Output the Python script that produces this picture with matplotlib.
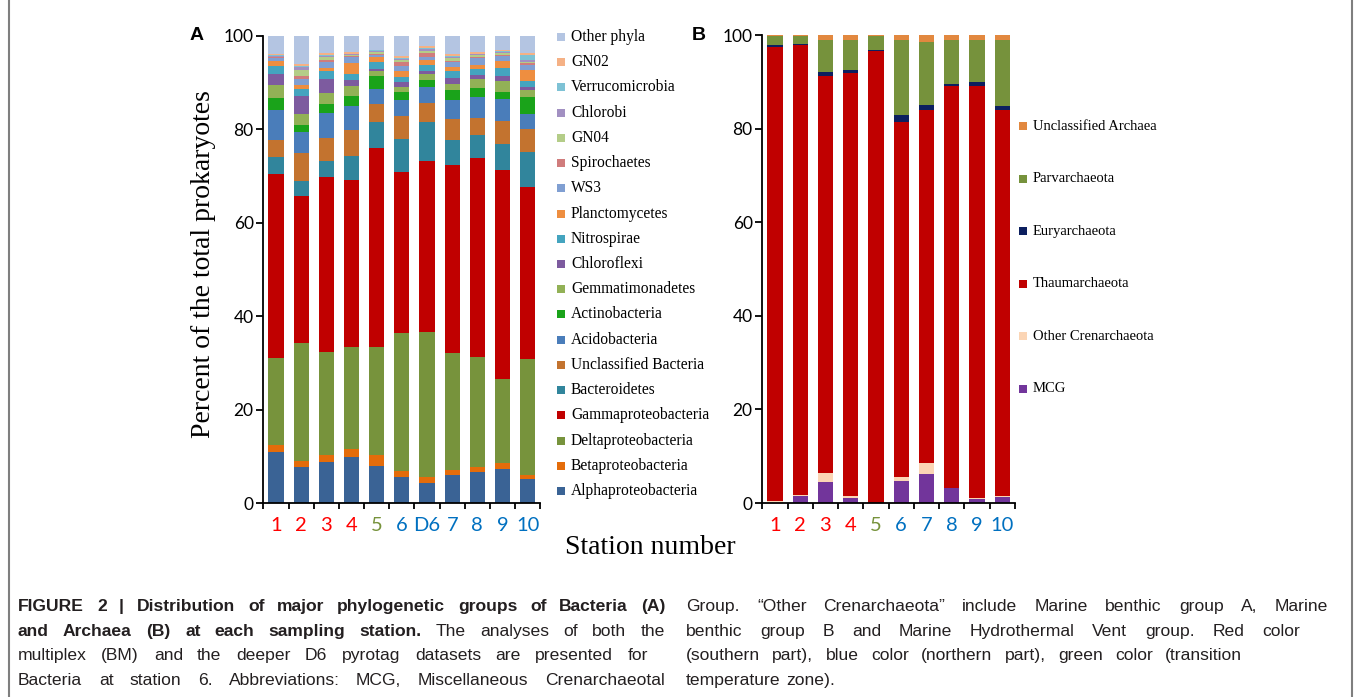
import matplotlib
matplotlib.use("Agg")
import matplotlib.pyplot as plt
import numpy as np
from matplotlib import font_manager as fm
from matplotlib.patches import Rectangle
from matplotlib.lines import Line2D

# ---------------- data ----------------
stations_a = ["1", "2", "3", "4", "5", "6", "D6", "7", "8", "9", "10"]
stations_b = ["1", "2", "3", "4", "5", "6", "7", "8", "9", "10"]
station_colors_a = ["#FF0000", "#FF0000", "#FF0000", "#FF0000", "#77933C", "#0070C0",
                    "#0070C0", "#0070C0", "#0070C0", "#0070C0", "#0070C0"]
station_colors_b = ["#FF0000", "#FF0000", "#FF0000", "#FF0000", "#77933C", "#0070C0",
                    "#0070C0", "#0070C0", "#0070C0", "#0070C0"]

bact_groups = ["Alphaproteobacteria", "Betaproteobacteria", "Deltaproteobacteria",
               "Gammaproteobacteria", "Bacteroidetes", "Unclassified Bacteria",
               "Acidobacteria", "Actinobacteria", "Gemmatimonadetes", "Chloroflexi",
               "Nitrospirae", "Planctomycetes", "WS3", "Spirochaetes", "GN04",
               "Chlorobi", "Verrucomicrobia", "GN02", "Other phyla"]
bact_colors = ["#3A6395", "#E46C0A", "#77933C", "#C00000", "#31859C", "#C3732F",
               "#4A7DBA", "#1AA31A", "#92B156", "#7D5B9F", "#44A4BF", "#EE8E40",
               "#809FD2", "#D07C7C", "#B4CD88", "#A290C2", "#7EC2D5", "#F5B185",
               "#B4C5E2"]

alpha_p   = [11.0, 7.7, 8.8, 9.8, 8.0, 5.6, 4.3, 6.1, 6.7, 7.3, 5.1]
beta_p    = [1.4, 1.4, 1.5, 1.8, 2.2, 1.2, 1.2, 1.0, 1.0, 1.3, 0.9]
delta_p   = [18.6, 25.1, 22.0, 21.8, 23.1, 29.7, 31.1, 25.1, 23.5, 18.0, 24.8]
gamma_p   = [39.4, 31.5, 37.5, 35.8, 42.7, 34.4, 36.6, 40.2, 42.7, 44.6, 36.9]
bacteroid = [3.6, 3.2, 3.4, 5.2, 5.6, 7.0, 8.4, 5.4, 4.9, 5.7, 7.5]
unclass_b = [3.7, 6.1, 4.9, 5.5, 3.8, 5.0, 4.1, 4.4, 3.7, 4.8, 4.9]
acido     = [6.4, 4.4, 5.5, 5.2, 3.2, 3.3, 3.4, 4.0, 4.5, 4.9, 3.3]
actino    = [2.7, 1.5, 1.8, 2.1, 2.8, 1.9, 1.5, 2.2, 1.9, 1.5, 3.6]
gemmat    = [2.7, 2.3, 2.3, 2.2, 1.1, 1.0, 1.3, 1.3, 1.8, 2.3, 1.5]
chlorofl  = [2.3, 4.0, 3.0, 1.1, 0.5, 1.0, 0.7, 1.4, 0.9, 1.1, 0.6]
nitro     = [1.8, 1.4, 1.7, 1.3, 1.5, 1.2, 1.2, 1.3, 1.4, 1.7, 1.3]
plancto   = [1.1, 0.9, 0.8, 2.5, 0.9, 1.2, 1.0, 1.0, 0.8, 1.4, 2.3]
ws3       = [0.5, 1.2, 1.2, 1.1, 0.5, 1.1, 0.8, 1.0, 1.4, 1.1, 1.1]
spiro     = [0.2, 0.7, 0.5, 0.3, 0.3, 0.8, 0.8, 0.3, 0.3, 0.3, 0.4]
gn04      = [0.2, 1.4, 0.5, 0.2, 0.3, 0.4, 0.4, 0.5, 0.4, 0.3, 0.2]
chlorobi  = [0.2, 0.5, 0.3, 0.2, 0.2, 0.3, 0.4, 0.3, 0.2, 0.2, 0.4]
verruco   = [0.1, 0.3, 0.2, 0.1, 0.2, 0.2, 0.3, 0.3, 0.1, 0.2, 1.2]
gn02      = [0.2, 0.4, 0.5, 0.4, 0.1, 0.5, 0.4, 0.3, 0.3, 0.2, 0.3]
other_ph  = [3.9, 6.0, 3.6, 3.4, 3.0, 4.2, 2.1, 3.9, 3.5, 3.1, 3.7]

arch_groups = ["MCG", "Other Crenarchaeota", "Thaumarchaeota", "Euryarchaeota",
               "Parvarchaeota", "Unclassified Archaea"]
arch_colors = ["#72359B", "#FBD5B5", "#C00000", "#0C1F5F", "#76923C", "#E2883F"]
mcg       = [0.0, 1.4, 4.4, 1.1, 0.0, 4.7, 6.1, 3.1, 0.8, 1.3]
other_cren= [0.4, 0.4, 2.1, 0.5, 0.0, 0.8, 2.5, 0.2, 0.3, 0.2]
thaum     = [97.0, 96.0, 84.8, 90.2, 96.5, 75.9, 75.3, 85.7, 87.9, 82.5]
eury      = [0.4, 0.3, 0.8, 0.7, 0.3, 1.4, 1.2, 0.5, 0.9, 0.8]
parv      = [1.9, 1.6, 6.9, 6.5, 3.0, 16.1, 13.4, 9.5, 9.1, 14.2]
unclass_a = [0.3, 0.3, 1.0, 1.0, 0.2, 1.1, 1.5, 1.0, 1.0, 1.0]

bact_data = [alpha_p, beta_p, delta_p, gamma_p, bacteroid, unclass_b, acido, actino,
             gemmat, chlorofl, nitro, plancto, ws3, spiro, gn04, chlorobi, verruco,
             gn02, other_ph]
arch_data = [mcg, other_cren, thaum, eury, parv, unclass_a]

# ---------------- figure ----------------
W, H = 1357, 697
fig = plt.figure(figsize=(W / 100, H / 100), dpi=100)
fig.patch.set_facecolor("white")

def fx(px):
    return px / W

def fy(py):
    return 1 - py / H

tick_font = "Lato"
serif = "Liberation Serif"

def make_axes(rect, n, labels, lcolors):
    ax = fig.add_axes(rect)
    ax.set_xlim(-0.5, n - 0.5)
    ax.set_ylim(0, 100)
    for s in ["top", "right"]:
        ax.spines[s].set_visible(False)
    for s in ["left", "bottom"]:
        ax.spines[s].set_linewidth(1.3)
        ax.spines[s].set_color("black")
    ax.set_yticks(np.arange(0, 101, 20))
    ax.tick_params(axis="y", direction="out", length=5, width=1.3, pad=2,
                   labelsize=12.5)
    for t in ax.get_yticklabels():
        t.set_fontfamily(tick_font)
    ax.set_xticks(np.arange(n))
    ax.set_xticklabels(labels)
    ax.tick_params(axis="x", which="major", length=0, pad=10, labelsize=14.5)
    for t, c in zip(ax.get_xticklabels(), lcolors):
        t.set_color(c)
        t.set_fontfamily(tick_font)
    ax.set_xticks(np.arange(-0.5, n, 1.0), minor=True)
    ax.tick_params(axis="x", which="minor", direction="out", length=4, width=1.3)
    ax.patch.set_alpha(0)
    return ax

axA = make_axes([fx(263.4), fy(503), fx(540.3 - 263.4), (503 - 36) / H],
                len(stations_a), stations_a, station_colors_a)
axB = make_axes([fx(762.4), fy(503), fx(1014.8 - 762.4), (503 - 35) / H],
                len(stations_b), stations_b, station_colors_b)

def stack(ax, data, colors, n):
    x = np.arange(n)
    bottom = np.zeros(n)
    for vals, c in zip(data, colors):
        v = np.array(vals, dtype=float)
        ax.bar(x, v, width=0.6, bottom=bottom, color=c, edgecolor="none", zorder=2)
        bottom += v

stack(axA, bact_data, bact_colors, len(stations_a))
stack(axB, arch_data, arch_colors, len(stations_b))

# panel letters
fig.text(fx(197), fy(36), "A", fontsize=14, fontweight="bold", family="Liberation Sans",
         ha="center", va="center")
fig.text(fx(699), fy(36), "B", fontsize=14, fontweight="bold", family="Liberation Sans",
         ha="center", va="center")

# axis titles
fig.text(fx(203), fy(264), "Percent of the total prokaryotes", rotation=90,
         fontsize=20, family=serif, ha="center", va="center")
fig.text(fx(650), fy(548), "Station number", fontsize=20, family=serif,
         ha="center", va="center")

# legends (manual, matching layout)
def legend(names, colors, x_patch, x_text, y0, dy, size):
    for i, (nm, c) in enumerate(zip(names, colors)):
        y = y0 + i * dy
        fig.add_artist(Rectangle((fx(x_patch), fy(y + 4)), 8 / W, 8 / H,
                                 transform=fig.transFigure, facecolor=c,
                                 edgecolor="none"))
        fig.text(fx(x_text), fy(y), nm, fontsize=size, family=serif,
                 ha="left", va="center")

legend(bact_groups[::-1], bact_colors[::-1], 557, 571, 37, 25.22, 11.2)
legend(arch_groups[::-1], arch_colors[::-1], 1019, 1033, 126, 52.6, 10.5)

# frame lines
for xpx in (8.5, 1351.5):
    fig.add_artist(Line2D([fx(xpx), fx(xpx)], [0, 1], transform=fig.transFigure,
                          color="#7f7f7f", lw=1.5))

# ---------------- caption ----------------
names = {f.name for f in fm.fontManager.ttflist}
cap_fam = "Liberation Sans Narrow" if "Liberation Sans Narrow" in names else "Liberation Sans"
cap_size = 14.0 if cap_fam == "Liberation Sans Narrow" else 12.6

renderer = fig.canvas.get_renderer()

def text_width(s, bold=False):
    t = fig.text(0, 0, s, fontsize=cap_size, family=cap_fam,
                 fontweight="bold" if bold else "normal")
    w = t.get_window_extent(renderer).width
    t.remove()
    return w

space_w = text_width("a a") - 2 * text_width("a")

def cap_line(words, x0, base_y, x1=None):
    arts = []
    for w, b in words:
        t = fig.text(fx(x0), fy(base_y), w, fontsize=cap_size, family=cap_fam,
                     fontweight="bold" if b else "normal", ha="left", va="baseline",
                     color="#231F20")
        arts.append(t)
    widths = [a.get_window_extent(renderer).width for a in arts]
    if x1 is not None and len(arts) > 1:
        gap = (x1 - x0 - sum(widths)) / (len(arts) - 1)
    else:
        gap = space_w * 1.2
    x = x0
    for a, w in zip(arts, widths):
        a.set_x(fx(round(x)))
        x += w + gap

def words_of(s, bold):
    return [(w, bold) for w in s.split(" ")]

ly = [611, 636, 660, 685]
cap_line(words_of("FIGURE 2 | Distribution of major phylogenetic groups of Bacteria (A)", True),
         18, ly[0], 665)
cap_line(words_of("and Archaea (B) at each sampling station.", True) +
         words_of("The analyses of both the", False), 18, ly[1], 665)
cap_line(words_of("multiplex (BM) and the deeper D6 pyrotag datasets are presented for", False),
         18, ly[2], 648)
cap_line(words_of("Bacteria at station 6. Abbreviations: MCG, Miscellaneous Crenarchaeotal", False),
         18, ly[3], 665)
cap_line(words_of("Group. \u201cOther Crenarchaeota\u201d include Marine benthic group A, Marine", False),
         686, ly[0], 1328)
cap_line(words_of("benthic group B and Marine Hydrothermal Vent group. Red color", False),
         686, ly[1], 1300)
cap_line(words_of("(southern part), blue color (northern part), green color (transition", False),
         686, ly[2], 1242)
cap_line(words_of("temperature zone).", False), 686, ly[3])

fig.savefig("out.png", dpi=100, facecolor="white")
